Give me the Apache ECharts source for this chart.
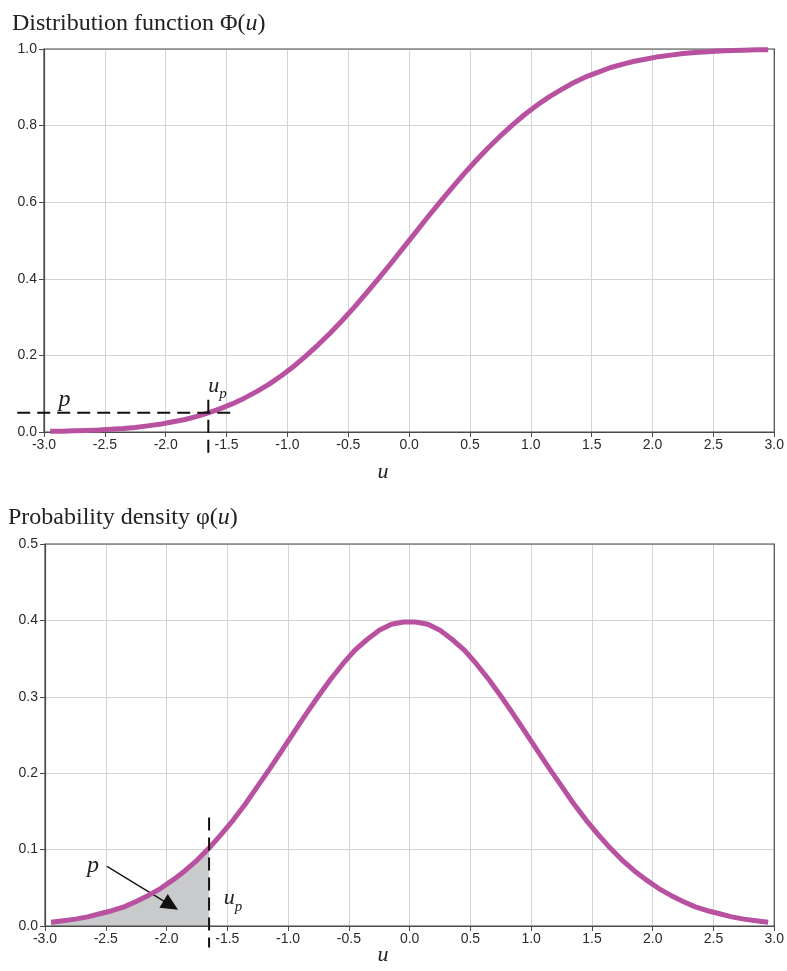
<!DOCTYPE html>
<html><head><meta charset="utf-8">
<script src="https://cdn.jsdelivr.net/npm/echarts@6/dist/echarts.min.js"></script>
<style>html,body{margin:0;padding:0;background:#fff}#c{width:787px;height:971px}</style>
</head><body><div id="c"></div>
<script>
const uValues = [-2.95,-2.85,-2.75,-2.65,-2.55,-2.45,-2.35,-2.25,-2.15,-2.05,-1.95,-1.85,-1.75,-1.65,-1.55,-1.45,-1.35,-1.25,-1.15,-1.05,-0.95,-0.85,-0.75,-0.65,-0.55,-0.45,-0.35,-0.25,-0.15,-0.05,0.05,0.15,0.25,0.35,0.45,0.55,0.65,0.75,0.85,0.95,1.05,1.15,1.25,1.35,1.45,1.55,1.65,1.75,1.85,1.95,2.05,2.15,2.25,2.35,2.45,2.55,2.65,2.75,2.85,2.95];
const cdfValues = [0.002,0.002,0.003,0.004,0.005,0.007,0.009,0.012,0.016,0.020,0.026,0.032,0.040,0.050,0.061,0.074,0.089,0.106,0.125,0.147,0.171,0.198,0.227,0.258,0.291,0.326,0.363,0.401,0.440,0.480,0.520,0.560,0.599,0.637,0.674,0.709,0.742,0.773,0.802,0.829,0.853,0.875,0.894,0.912,0.927,0.939,0.951,0.960,0.968,0.974,0.980,0.984,0.988,0.991,0.993,0.995,0.996,0.997,0.998,0.998];
const pdfValues = [0.005,0.007,0.009,0.012,0.016,0.020,0.025,0.032,0.040,0.049,0.060,0.072,0.086,0.102,0.120,0.139,0.160,0.183,0.206,0.230,0.254,0.278,0.301,0.323,0.343,0.361,0.375,0.387,0.395,0.398,0.398,0.395,0.387,0.375,0.361,0.343,0.323,0.301,0.278,0.254,0.230,0.206,0.183,0.160,0.139,0.120,0.102,0.086,0.072,0.060,0.049,0.040,0.032,0.025,0.020,0.016,0.012,0.009,0.007,0.005];
const up = -1.65;
const pLevel = 0.05;
const titles = ['Distribution function \u03A6(', 'Probability density \u03C6('];
const axisName = 'u';

const cdfData = uValues.map((u,i)=>[u,cdfValues[i]]);
const pdfData = uValues.map((u,i)=>[u,pdfValues[i]]);
const shadeData = pdfData.filter(d=>d[0] <= up + 1e-9);

const lineColor = '#B8519F';
const gridColor = '#d4d4d4';
const axisColor = '#4a4a4a';
const tickFont = {fontFamily:'Liberation Sans, Arial', fontSize:14, color:'#2a2a2a'};

function xAxis(gi){
  return {type:'value', gridIndex:gi, min:-3, max:3, interval:0.5,
    axisLine:{show:true,onZero:false,lineStyle:{color:axisColor,width:1.2}},
    axisTick:{show:true,length:5,lineStyle:{color:axisColor}},
    splitLine:{show:true,lineStyle:{color:gridColor,width:1}},
    axisLabel:Object.assign({margin:6,formatter:v=>v.toFixed(1)},tickFont)};
}
function yAxis(gi,max,interval){
  return {type:'value', gridIndex:gi, min:0, max:max, interval:interval,
    axisLine:{show:true,onZero:false,lineStyle:{color:axisColor,width:1.2}},
    axisTick:{show:true,length:5,lineStyle:{color:axisColor}},
    splitLine:{show:true,lineStyle:{color:gridColor,width:1}},
    axisLabel:Object.assign({margin:7,formatter:v=>v.toFixed(1)},tickFont)};
}

const chart = echarts.init(document.getElementById('c'), null, {renderer:'canvas'});
const serifTitle = {fontFamily:'Liberation Serif, Times New Roman', fontSize:24, fontWeight:'normal', color:'#222'};
chart.setOption({
  animation:false,
  title:[
    {text:'{a|'+titles[0]+'}{i|u}{a|)}', left:7, top:7, textStyle:{fontWeight:'normal', rich:{a:serifTitle, i:Object.assign({},serifTitle,{fontStyle:'italic'})}}},
    {text:'{a|'+titles[1]+'}{i|u}{a|)}', left:3, top:501, textStyle:{fontWeight:'normal', rich:{a:serifTitle, i:Object.assign({},serifTitle,{fontStyle:'italic'})}}}
  ],
  grid:[
    {left:44, right:12, top:49, height:383},
    {left:45, right:12, top:544, height:382}
  ],
  xAxis:[xAxis(0), xAxis(1)],
  yAxis:[yAxis(0,1,0.2), yAxis(1,0.5,0.1)],
  series:[
    {type:'line', xAxisIndex:0, yAxisIndex:0, data:cdfData, showSymbol:false, smooth:false,
      lineStyle:{color:lineColor,width:5}, z:5},
    {type:'line', xAxisIndex:1, yAxisIndex:1, data:shadeData, showSymbol:false,
      lineStyle:{width:0}, areaStyle:{color:'#c9cacc',opacity:1}, z:2,
      markLine:{silent:true, symbol:['none','triangle'], symbolSize:[16,17], label:{show:false},
        lineStyle:{color:'#111',width:1.3,type:'solid'},
        data:[[{coord:[-2.49,0.078]},{coord:[-1.965,0.027]}]]}},
    {type:'line', xAxisIndex:1, yAxisIndex:1, data:pdfData, showSymbol:false,
      lineStyle:{color:lineColor,width:5}, z:5}
  ]
});

const p0 = (u,y)=>chart.convertToPixel({gridIndex:0},[u,y]);
const p1 = (u,y)=>chart.convertToPixel({gridIndex:1},[u,y]);
const dash = {stroke:'#111', lineWidth:2, lineDash:[13,7]};
function seg(a,b){return {type:'line', z:10, shape:{x1:a[0],y1:a[1],x2:b[0],y2:b[1]}, style:dash};}
function frame(a,b){return {type:'rect', z:4, shape:{x:a[0],y:a[1],width:b[0]-a[0],height:b[1]-a[1]}, style:{fill:null, stroke:axisColor, lineWidth:1.2}};}
const italic = {fontFamily:'Liberation Serif, Times New Roman', fontStyle:'italic', fill:'#222'};
function upLabel(pt){
  return {type:'group', z:11, children:[
    {type:'text', z:11, x:pt[0], y:pt[1], style:Object.assign({text:'u', fontSize:22, textVerticalAlign:'bottom'},italic)},
    {type:'text', z:11, x:pt[0]+11, y:pt[1]+5, style:Object.assign({text:'p', fontSize:15, textVerticalAlign:'bottom'},italic)}
  ]};
}
function nameText(pt){
  return {type:'text', z:11, x:pt[0], y:pt[1], style:Object.assign({text:axisName, fontSize:22, textAlign:'center', textVerticalAlign:'middle'},italic)};
}
const hA = p0(-3.22,pLevel), hB = p0(-1.42,pLevel);
const vA = p0(up,0.084), vB = p0(up,-0.064);
const bA = p1(up,0.142), bB = p1(up,-0.028);
const pTop = p0(-2.88,0.052), upTop = p0(up,0.092);
const pBot = p1(-2.655,0.063), upBot = p1(-1.53,0.022);
chart.setOption({graphic:[
  frame(p0(-3,1),p0(3,0)), frame(p1(-3,0.5),p1(3,0)),
  seg(hA,hB), seg(vA,vB), seg(bA,bB),
  {type:'text', z:11, x:pTop[0], y:pTop[1], style:Object.assign({text:'p', fontSize:24, textVerticalAlign:'bottom'},italic)},
  upLabel(upTop),
  {type:'text', z:11, x:pBot[0], y:pBot[1], style:Object.assign({text:'p', fontSize:24, textVerticalAlign:'bottom'},italic)},
  upLabel(upBot),
  nameText([383, p0(0,0)[1]+40]), nameText([383, p1(0,0)[1]+29])
]});
</script></body></html>
